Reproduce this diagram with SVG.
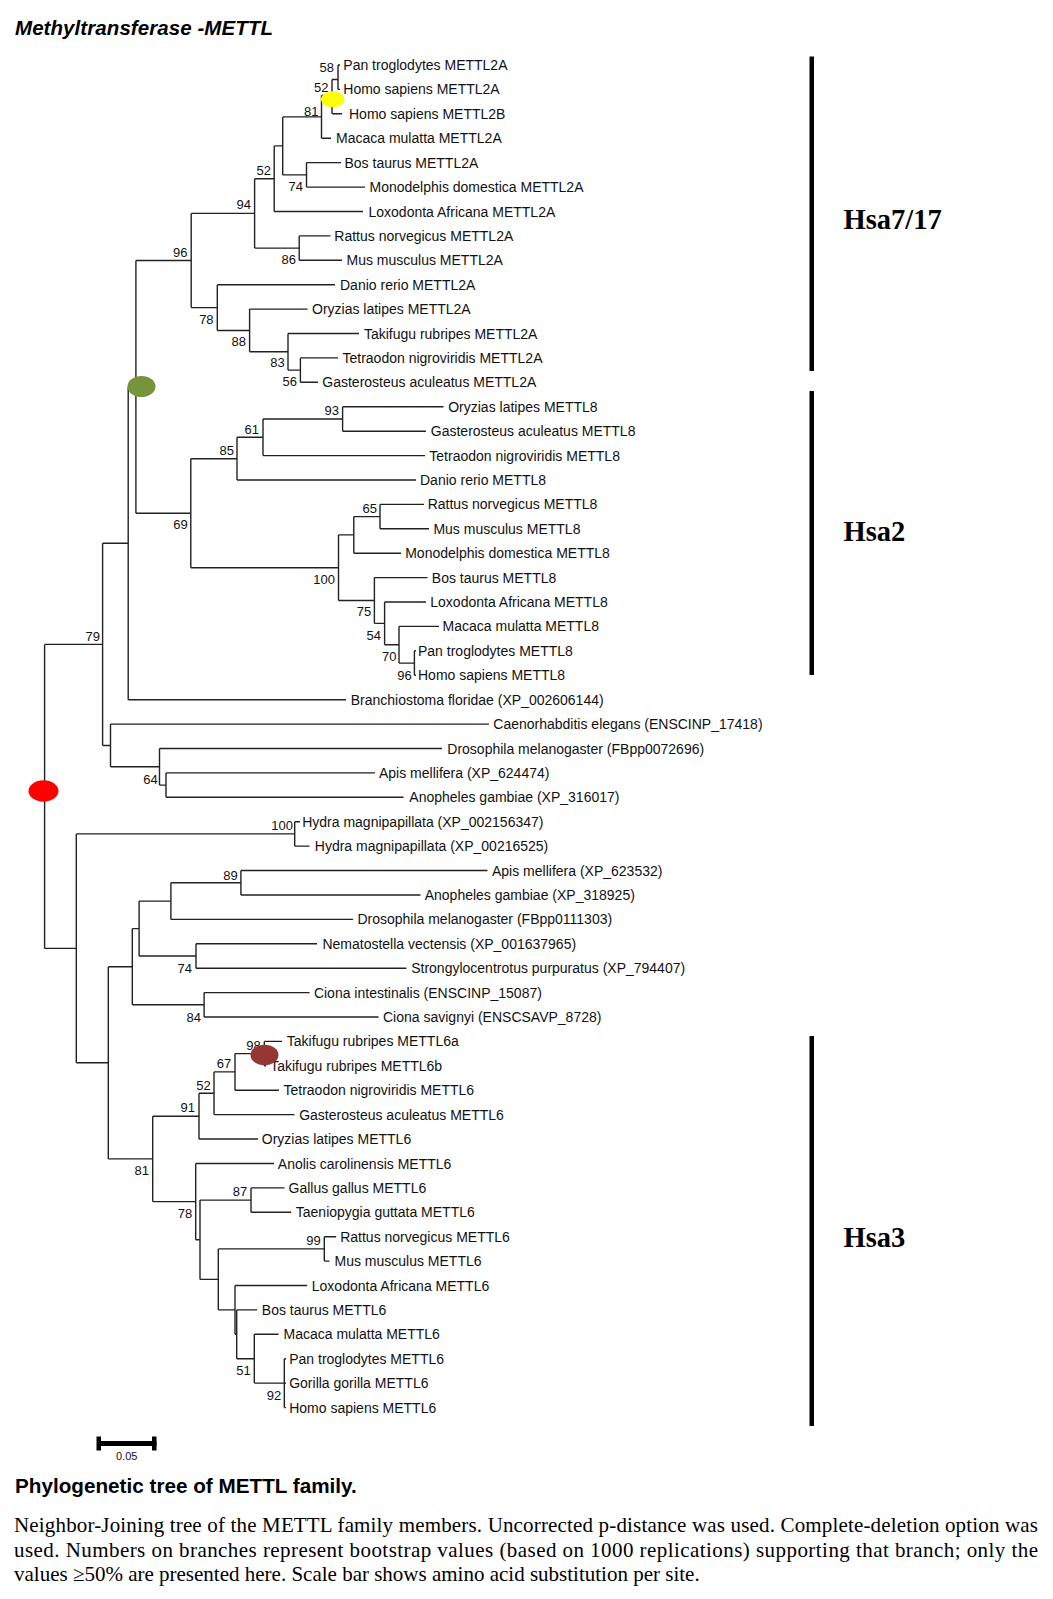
<svg xmlns="http://www.w3.org/2000/svg" width="1053" height="1599" viewBox="0 0 1053 1599">
<style>
.t{font-family:"Liberation Sans",Arial,sans-serif;font-size:14px;fill:#111}
.b{font-family:"Liberation Sans",Arial,sans-serif;font-size:13px;fill:#111;text-anchor:end}
.br{fill:none;stroke:#222;stroke-width:1.4}
.hsa{font-family:"Liberation Serif","Times New Roman",serif;font-size:28.5px;font-weight:bold;fill:#000}
.cap{font-family:"Liberation Serif","Times New Roman",serif;font-size:21px;fill:#000}
</style>
<rect width="1053" height="1599" fill="#fff"/>
<text x="15" y="35" style="font-family:'Liberation Sans',Arial,sans-serif;font-size:20.5px;font-weight:bold;font-style:italic" textLength="258">Methyltransferase -METTL</text>

<g id="connectors" class="br">
<path d="M44.6,644.4V948.4M44.6,644.4H102.6M44.6,948.4H76.3"/>
<path d="M102.6,543.3V745.5M102.6,543.3H128.2M102.6,745.5H110.3"/>
<path d="M128.2,386.9V699.7M128.2,386.9H135.9M128.2,699.7H346"/>
<path d="M135.9,260.5V513.2M135.9,260.5H191.2M135.9,513.2H190.8"/>
<path d="M191.2,213.4V307.6M191.2,213.4H254.6M191.2,307.6H217.3"/>
<path d="M254.6,178.7V248.1M254.6,178.7H274.2M254.6,248.1H299.2"/>
<path d="M274.2,145.9V211.5M274.2,145.9H282.7M274.2,211.5H363"/>
<path d="M282.7,116.9V174.9M282.7,116.9H321.5M282.7,174.9H306.5"/>
<path d="M321.5,95.5V138.2M321.5,95.5H332M321.5,138.2H331"/>
<path d="M332,79.5V113.8M332,79.5H338M332,113.8H342"/>
<path d="M338,65V89.4M338,65H340M338,89.4H340"/>
<path d="M306.5,162.6V187.1M306.5,162.6H341M306.5,187.1H365"/>
<path d="M299.2,235.9V260.3M299.2,235.9H330.5M299.2,260.3H342"/>
<path d="M217.3,284.7V330.5M217.3,284.7H335M217.3,330.5H249.6"/>
<path d="M249.6,309.1V351.8M249.6,309.1H307.5M249.6,351.8H288"/>
<path d="M288,333.5V370.1M288,333.5H359M288,370.1H300.4"/>
<path d="M300.4,357.9V382.3M300.4,357.9H338M300.4,382.3H318"/>
<path d="M190.8,458.7V567.7M190.8,458.7H237M190.8,567.7H338.5"/>
<path d="M237,437.3V480M237,437.3H263M237,480H416"/>
<path d="M263,419V455.6M263,419H342.6M263,455.6H425"/>
<path d="M342.6,406.7V431.2M342.6,406.7H443.5M342.6,431.2H426"/>
<path d="M338.5,534.9V600.5M338.5,534.9H353.8M338.5,600.5H374.4"/>
<path d="M353.8,516.6V553.2M353.8,516.6H380M353.8,553.2H401"/>
<path d="M380,504.4V528.8M380,504.4H424M380,528.8H429"/>
<path d="M374.4,577.6V623.4M374.4,577.6H427.5M374.4,623.4H384.6"/>
<path d="M384.6,602V644.8M384.6,602H426M384.6,644.8H399"/>
<path d="M399,626.4V663.1M399,626.4H439M399,663.1H414.4"/>
<path d="M414.4,650.8V675.3M414.4,650.8H416M414.4,675.3H416"/>
<path d="M110.5,724.1V766.8M110.5,724.1H489M110.5,766.8H159.5"/>
<path d="M159.5,748.5V785.1M159.5,748.5H442M159.5,785.1H166"/>
<path d="M166,772.9V797.3M166,772.9H375M166,797.3H403.5"/>
<path d="M76.3,833.9V1062.8M76.3,833.9H294.7M76.3,1062.8H108.3"/>
<path d="M294.7,821.7V846.1M294.7,821.7H300M294.7,846.1H309.5"/>
<path d="M108.3,966.7V1158.9M108.3,966.7H132.3M108.3,1158.9H152.7"/>
<path d="M132.3,928.6V1004.8M132.3,928.6H139.1M132.3,1004.8H204.1"/>
<path d="M139.1,901.1V956M139.1,901.1H170.9M139.1,956H196"/>
<path d="M170.9,882.8V919.4M170.9,882.8H240.9M170.9,919.4H353"/>
<path d="M240.9,870.5V895M240.9,870.5H487.5M240.9,895H420.5"/>
<path d="M196,943.8V968.2M196,943.8H317M196,968.2H406.5"/>
<path d="M204.1,992.6V1017M204.1,992.6H309.5M204.1,1017H378.5"/>
<path d="M152.7,1116.2V1201.6M152.7,1116.2H199M152.7,1201.6H195.7"/>
<path d="M199,1093.3V1139M199,1093.3H214M199,1139H258"/>
<path d="M214,1071.9V1114.6M214,1071.9H235M214,1114.6H294.5"/>
<path d="M235,1053.6V1090.2M235,1053.6H264.3M235,1090.2H279"/>
<path d="M264.3,1041.4V1065.8M264.3,1041.4H282M264.3,1065.8H266"/>
<path d="M195.7,1163.5V1239.8M195.7,1163.5H274M195.7,1239.8H200"/>
<path d="M200,1200.1V1279.4M200,1200.1H251M200,1279.4H218.3"/>
<path d="M251,1187.9V1212.3M251,1187.9H284.5M251,1212.3H291.2"/>
<path d="M218.3,1248.9V1309.9M218.3,1248.9H324.3M218.3,1309.9H235"/>
<path d="M324.3,1236.7V1261.1M324.3,1236.7H336.2M324.3,1261.1H329.5"/>
<path d="M235,1285.5V1334.3M235,1285.5H307.2M235,1334.3H236.7"/>
<path d="M236.7,1309.9V1358.7M236.7,1309.9H257.2M236.7,1358.7H254.3"/>
<path d="M254.3,1334.3V1383.1M254.3,1334.3H278.5M254.3,1383.1H284.3"/>
<path d="M284.3,1358.7V1407.6M284.3,1358.7H286M284.3,1383.1H286M284.3,1407.6H286"/>
</g>

<g id="bootstrap">
<text class="b" x="334" y="71.5">58</text>
<text class="b" x="328.5" y="92.3">52</text>
<text class="b" x="318.5" y="115.5">81</text>
<text class="b" x="303" y="191.2">74</text>
<text class="b" x="271" y="174.5">52</text>
<text class="b" x="251" y="208.5">94</text>
<text class="b" x="296" y="263.5">86</text>
<text class="b" x="187.5" y="256.8">96</text>
<text class="b" x="213.6" y="323.5">78</text>
<text class="b" x="246" y="346.2">88</text>
<text class="b" x="284.8" y="367.2">83</text>
<text class="b" x="297" y="386.2">56</text>
<text class="b" x="339" y="415.2">93</text>
<text class="b" x="259" y="433.5">61</text>
<text class="b" x="234" y="454.5">85</text>
<text class="b" x="187.7" y="528.8">69</text>
<text class="b" x="377" y="512.8">65</text>
<text class="b" x="335" y="583.8">100</text>
<text class="b" x="371.3" y="616.2">75</text>
<text class="b" x="381" y="639.5">54</text>
<text class="b" x="396.4" y="660.5">70</text>
<text class="b" x="411.8" y="679.5">96</text>
<text class="b" x="100" y="640.5">79</text>
<text class="b" x="157.7" y="783.8">64</text>
<text class="b" x="292.9" y="829.5">100</text>
<text class="b" x="237.7" y="879.5">89</text>
<text class="b" x="192" y="972.8">74</text>
<text class="b" x="200.9" y="1022.2">84</text>
<text class="b" x="260.7" y="1049.5">98</text>
<text class="b" x="231.3" y="1067.8">67</text>
<text class="b" x="210.7" y="1089.5">52</text>
<text class="b" x="195" y="1112.2">91</text>
<text class="b" x="149" y="1175.2">81</text>
<text class="b" x="247.3" y="1196.2">87</text>
<text class="b" x="192.3" y="1217.8">78</text>
<text class="b" x="320.7" y="1244.5">99</text>
<text class="b" x="250.7" y="1375.2">51</text>
<text class="b" x="281.3" y="1400.2">92</text>
</g>

<g id="n0"><text class="t" x="343.3" y="70">Pan troglodytes METTL2A</text></g>
<g id="n1"><text class="t" x="343.3" y="94.4">Homo sapiens METTL2A</text></g>
<g id="n2"><text class="t" x="349" y="118.8">Homo sapiens METTL2B</text></g>
<g id="n3"><text class="t" x="336" y="143.2">Macaca mulatta METTL2A</text></g>
<g id="n4"><text class="t" x="344.5" y="167.6">Bos taurus METTL2A</text></g>
<g id="n5"><text class="t" x="369.5" y="192.1">Monodelphis domestica METTL2A</text></g>
<g id="n6"><text class="t" x="368.5" y="216.5">Loxodonta Africana METTL2A</text></g>
<g id="n7"><text class="t" x="334.3" y="240.9">Rattus norvegicus METTL2A</text></g>
<g id="n8"><text class="t" x="346.5" y="265.3">Mus musculus METTL2A</text></g>
<g id="n9"><text class="t" x="340" y="289.7">Danio rerio METTL2A</text></g>
<g id="n10"><text class="t" x="312" y="314.1">Oryzias latipes METTL2A</text></g>
<g id="n11"><text class="t" x="363.9" y="338.5">Takifugu rubripes METTL2A</text></g>
<g id="n12"><text class="t" x="342.5" y="362.9">Tetraodon nigroviridis METTL2A</text></g>
<g id="n13"><text class="t" x="322.3" y="387.3">Gasterosteus aculeatus METTL2A</text></g>
<g id="n14"><text class="t" x="448.2" y="411.7">Oryzias latipes METTL8</text></g>
<g id="n15"><text class="t" x="430.8" y="436.2">Gasterosteus aculeatus METTL8</text></g>
<g id="n16"><text class="t" x="429.3" y="460.6">Tetraodon nigroviridis METTL8</text></g>
<g id="n17"><text class="t" x="420" y="485">Danio rerio METTL8</text></g>
<g id="n18"><text class="t" x="427.7" y="509.4">Rattus norvegicus METTL8</text></g>
<g id="n19"><text class="t" x="433.4" y="533.8">Mus musculus METTL8</text></g>
<g id="n20"><text class="t" x="405.2" y="558.2">Monodelphis domestica METTL8</text></g>
<g id="n21"><text class="t" x="431.8" y="582.6">Bos taurus METTL8</text></g>
<g id="n22"><text class="t" x="430.3" y="607">Loxodonta Africana METTL8</text></g>
<g id="n23"><text class="t" x="442.6" y="631.4">Macaca mulatta METTL8</text></g>
<g id="n24"><text class="t" x="418" y="655.8">Pan troglodytes METTL8</text></g>
<g id="n25"><text class="t" x="418" y="680.3">Homo sapiens METTL8</text></g>
<g id="n26"><text class="t" x="350.7" y="704.7">Branchiostoma floridae (XP_002606144)</text></g>
<g id="n27"><text class="t" x="493.3" y="729.1">Caenorhabditis elegans (ENSCINP_17418)</text></g>
<g id="n28"><text class="t" x="447.3" y="753.5">Drosophila melanogaster (FBpp0072696)</text></g>
<g id="n29"><text class="t" x="379" y="777.9">Apis mellifera (XP_624474)</text></g>
<g id="n30"><text class="t" x="409.3" y="802.3">Anopheles gambiae (XP_316017)</text></g>
<g id="n31"><text class="t" x="302.2" y="826.7">Hydra magnipapillata (XP_002156347)</text></g>
<g id="n32"><text class="t" x="314.8" y="851.1">Hydra magnipapillata (XP_00216525)</text></g>
<g id="n33"><text class="t" x="492" y="875.5">Apis mellifera (XP_623532)</text></g>
<g id="n34"><text class="t" x="424.7" y="900">Anopheles gambiae (XP_318925)</text></g>
<g id="n35"><text class="t" x="357.4" y="924.4">Drosophila melanogaster (FBpp0111303)</text></g>
<g id="n36"><text class="t" x="322.4" y="948.8">Nematostella vectensis (XP_001637965)</text></g>
<g id="n37"><text class="t" x="411.2" y="973.2">Strongylocentrotus purpuratus (XP_794407)</text></g>
<g id="n38"><text class="t" x="313.9" y="997.6">Ciona intestinalis (ENSCINP_15087)</text></g>
<g id="n39"><text class="t" x="383" y="1022">Ciona savignyi (ENSCSAVP_8728)</text></g>
<g id="n40"><text class="t" x="286.8" y="1046.4">Takifugu rubripes METTL6a</text></g>
<g id="n41"><text class="t" x="270.2" y="1070.8">Takifugu rubripes METTL6b</text></g>
<g id="n42"><text class="t" x="283.5" y="1095.2">Tetraodon nigroviridis METTL6</text></g>
<g id="n43"><text class="t" x="299.2" y="1119.6">Gasterosteus aculeatus METTL6</text></g>
<g id="n44"><text class="t" x="261.8" y="1144">Oryzias latipes METTL6</text></g>
<g id="n45"><text class="t" x="277.8" y="1168.5">Anolis carolinensis METTL6</text></g>
<g id="n46"><text class="t" x="288.5" y="1192.9">Gallus gallus METTL6</text></g>
<g id="n47"><text class="t" x="295.8" y="1217.3">Taeniopygia guttata METTL6</text></g>
<g id="n48"><text class="t" x="340.2" y="1241.7">Rattus norvegicus METTL6</text></g>
<g id="n49"><text class="t" x="334.5" y="1266.1">Mus musculus METTL6</text></g>
<g id="n50"><text class="t" x="311.8" y="1290.5">Loxodonta Africana METTL6</text></g>
<g id="n51"><text class="t" x="261.8" y="1314.9">Bos taurus METTL6</text></g>
<g id="n52"><text class="t" x="283.5" y="1339.3">Macaca mulatta METTL6</text></g>
<g id="n53"><text class="t" x="289.2" y="1363.7">Pan troglodytes METTL6</text></g>
<g id="n54"><text class="t" x="289.2" y="1388.1">Gorilla gorilla METTL6</text></g>
<g id="n55"><text class="t" x="289.2" y="1412.6">Homo sapiens METTL6</text></g>

<g id="markers">
<ellipse cx="332.7" cy="99.3" rx="11.7" ry="8" fill="#FFFF00"/>
<ellipse cx="141.5" cy="386.5" rx="14" ry="10.5" fill="#77933C"/>
<ellipse cx="43.5" cy="791" rx="15" ry="10.7" fill="#FF0000"/>
<ellipse cx="264.5" cy="1055" rx="14" ry="10.3" fill="#953735"/>
</g>

<g id="groups">
<rect x="809.5" y="56.5" width="4.5" height="314.5" fill="#000"/>
<rect x="809.5" y="391" width="4.5" height="284" fill="#000"/>
<rect x="809.5" y="1036" width="4.5" height="390" fill="#000"/>
<text class="hsa" x="843.5" y="228.5">Hsa7/17</text>
<text class="hsa" x="843.5" y="541">Hsa2</text>
<text class="hsa" x="843.5" y="1246.5">Hsa3</text>
</g>

<g id="scalebar">
<rect x="97" y="1441" width="59.5" height="5" fill="#000"/>
<rect x="96.5" y="1436.5" width="4.5" height="14" fill="#000"/>
<rect x="152" y="1436.5" width="4.5" height="14" fill="#000"/>
<text x="126.7" y="1460" text-anchor="middle" style="font-family:'Liberation Sans',Arial,sans-serif;font-size:11px;fill:#111">0.05</text>
</g>

<g id="caption">
<text x="15" y="1493" style="font-family:'Liberation Sans',Arial,sans-serif;font-size:20.7px;font-weight:bold">Phylogenetic tree of METTL family.</text>
<text class="cap" x="14" y="1532" textLength="1024" lengthAdjust="spacing">Neighbor-Joining tree of the METTL family members. Uncorrected p-distance was used. Complete-deletion option was</text>
<text class="cap" x="14" y="1556.5" textLength="1024" lengthAdjust="spacing">used. Numbers on branches represent bootstrap values (based on 1000 replications) supporting that branch; only the</text>
<text class="cap" x="14" y="1581">values ≥50% are presented here. Scale bar shows amino acid substitution per site.</text>
</g>
</svg>
